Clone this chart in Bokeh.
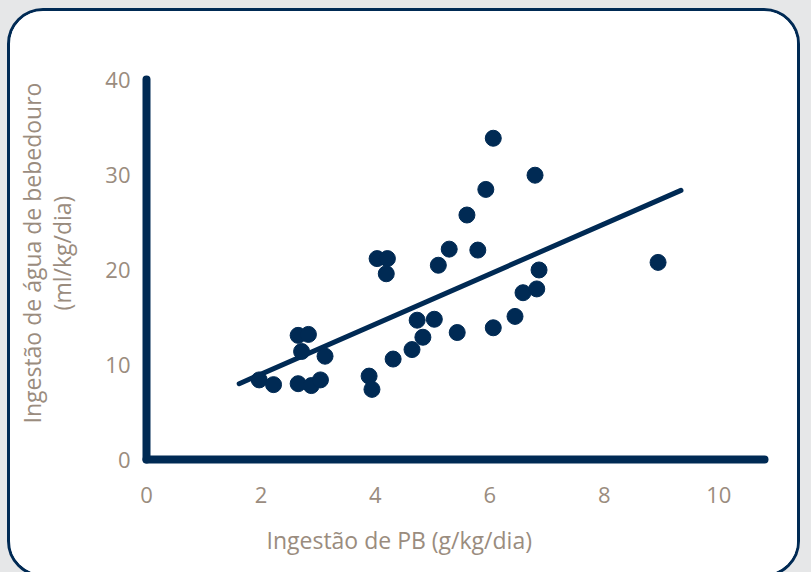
from bokeh.plotting import figure
from bokeh.models import FixedTicker, Range1d, Title
from bokeh.embed import file_html
from bokeh.resources import INLINE

# Data
x_vals = [1.97, 2.22, 2.65, 2.83, 2.71, 2.65, 2.88, 3.04, 3.12, 3.89, 3.94,
          4.03, 4.21, 4.19, 4.31, 4.64, 4.73, 4.83, 5.03, 5.10, 5.29, 5.43,
          5.60, 5.79, 5.93, 6.06, 6.06, 6.44, 6.58, 6.79, 6.82, 6.86, 8.94]
y_vals = [8.4, 7.9, 13.1, 13.2, 11.4, 8.0, 7.8, 8.4, 10.9, 8.8, 7.4,
          21.2, 21.2, 19.6, 10.6, 11.6, 14.7, 12.9, 14.8, 20.5, 22.2, 13.4,
          25.8, 22.1, 28.5, 33.9, 13.9, 15.1, 17.6, 30.0, 18.0, 20.0, 20.8]
fit_x = [1.62, 9.34]
fit_y = [8.0, 28.4]
x_ticks = [0, 2, 4, 6, 8, 10]
y_ticks = [0, 10, 20, 30, 40]
x_title = "Ingestão de PB (g/kg/dia)"
y_title = "Ingestão de água de bebedouro\n(ml/kg/dia)"

NAVY = "#002a54"
GREY = "#9a8c7e"
FONT = "Open Sans"

p = figure(width=793, height=569, output_backend="svg", toolbar_location=None,
           x_range=Range1d(0, 10.8), y_range=Range1d(0, 40.1),
           min_border_left=0, min_border_right=39, min_border_top=68,
           min_border_bottom=121)
p.styles = {"margin": "8px 0 0 7px", "border": "3px solid " + NAVY,
            "border-radius": "36px", "overflow": "hidden",
            "background-color": "white"}

p.xgrid.visible = False
p.ygrid.visible = False
p.outline_line_color = None
p.background_fill_color = "white"
p.border_fill_color = "white"

p.line(fit_x, fit_y, line_color=NAVY, line_width=5, line_cap="round")
p.scatter(x_vals, y_vals, size=16, fill_color=NAVY, line_color=NAVY)

for ax in (p.xaxis[0], p.yaxis[0]):
    ax.axis_line_color = NAVY
    ax.axis_line_width = 8
    ax.axis_line_cap = "round"
    ax.major_tick_line_color = None
    ax.minor_tick_line_color = None
    ax.major_tick_out = 0
    ax.major_tick_in = 0
    ax.major_label_text_color = GREY
    ax.major_label_text_font = FONT
    ax.major_label_text_font_size = "22px"

p.xaxis.ticker = FixedTicker(ticks=x_ticks)
p.yaxis.ticker = FixedTicker(ticks=y_ticks)
p.xaxis.major_label_standoff = 27
p.yaxis.major_label_standoff = 16

tcommon = dict(text_color=GREY, text_font=FONT, text_font_size="23px",
               text_font_style="normal", align="left")
p.add_layout(Title(text=x_title, offset=120, standoff=33, **tcommon), "below")

# spacer between the y axis and its title (pushes the title outward)
spacer = Title(text="\u00a0", text_font_size="1px", text_color="white",
               standoff=14)
p.add_layout(spacer, "left")
yt = Title(text=y_title, offset=36, standoff=10, vertical_align="top",
           text_line_height=0.96, **tcommon)
try:
    yt.text_align = "center"
except Exception:
    pass
p.add_layout(yt, "left")

html = file_html(p, INLINE)
html = html.replace("</head>",
                    "<style>html, body {background-color:#e6e7e8 !important; overflow:hidden;}</style></head>", 1)
open("out.html", "w").write(html)
